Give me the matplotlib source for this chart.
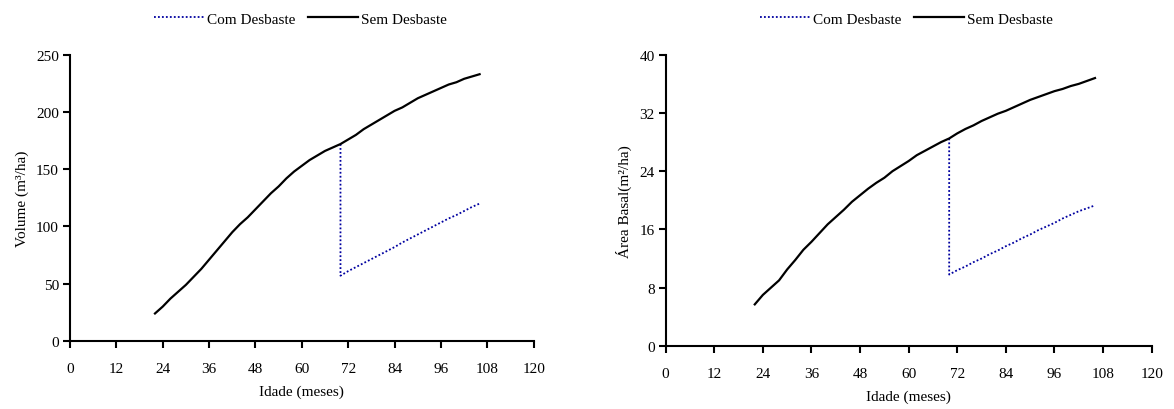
import numpy as np
import matplotlib.pyplot as plt

plt.rcParams['font.family'] = ['Liberation Serif', 'DejaVu Serif']
plt.rcParams['font.size'] = 11

# Idade (meses)
idade = [22, 24, 26, 28, 30, 32, 34, 36, 38, 40, 42, 44, 46, 48, 50, 52, 54, 56, 58,
         60, 62, 64, 66, 68, 70, 72, 74, 76, 78, 80, 82, 84, 86, 88, 90, 92, 94, 96,
         98, 100, 102, 104, 106]

# Volume sem desbaste (m3/ha)
vol_sem = [24, 30, 37, 43, 49, 56, 63, 71, 79, 87, 95, 102, 108, 115, 122, 129, 135,
           142, 148, 153, 158, 162, 166, 169, 172, 176, 180, 185, 189, 193, 197, 201,
           204, 208, 212, 215, 218, 221, 224, 226, 229, 231, 233]

# Area basal sem desbaste (m2/ha)
ab_sem = [5.7, 7.0, 8.0, 9.0, 10.5, 11.8, 13.2, 14.3, 15.5, 16.7, 17.7, 18.7, 19.8,
          20.7, 21.6, 22.4, 23.1, 24.0, 24.7, 25.4, 26.2, 26.8, 27.4, 28.0, 28.5, 29.2,
          29.8, 30.3, 30.9, 31.4, 31.9, 32.3, 32.8, 33.3, 33.8, 34.2, 34.6, 35.0, 35.3,
          35.7, 36.0, 36.4, 36.8]

# Com desbaste aos 70 meses
idade_com = [70, 70, 72, 74, 76, 78, 80, 82, 84, 86, 88, 90, 92, 94, 96, 98, 100, 102,
             104, 106]
vol_com = [172, 57, 61, 64.5, 68, 71.5, 75, 78.5, 82, 86, 89.5, 93, 96.5, 100, 103.5,
           107, 110, 113.5, 117, 120]
ab_com = [28.5, 9.8, 10.4, 10.9, 11.5, 12.0, 12.6, 13.1, 13.7, 14.2, 14.8, 15.3, 15.9,
          16.4, 16.9, 17.5, 18.0, 18.5, 18.9, 19.3]

xticks = np.arange(0, 121, 12)

fig = plt.figure(figsize=(11.74, 4.10), dpi=100)
ax1 = fig.add_axes([0.0596, 0.166, 0.395, 0.698])
ax2 = fig.add_axes([0.567, 0.154, 0.414, 0.710])

paineis = [
    (ax1, vol_com, vol_sem, [0, 250], np.arange(0, 251, 50), 'Volume (m³/ha)', 0.256),
    (ax2, ab_com, ab_sem, [0, 40], np.arange(0, 41, 8), 'Área Basal(m²/ha)', 0.772),
]

for ax, com, sem, ylim, yticks, ylab, leg_x in paineis:
    l1, = ax.plot(idade_com, com, color='#0000a0', linestyle=(0, (1, 1.2)), lw=1.3)
    l2, = ax.plot(idade, sem, color='black', lw=1.6)
    ax.set_xlim(0, 120)
    ax.set_ylim(*ylim)
    ax.set_xticks(xticks)
    ax.set_yticks(yticks)
    for s in ['top', 'right']:
        ax.spines[s].set_visible(False)
    for s in ['left', 'bottom']:
        ax.spines[s].set_linewidth(1.5)
    ax.tick_params(direction='out', length=5, width=1.5, pad=10)
    ax.tick_params(axis='y', pad=3)
    ax.set_xlabel('Idade (meses)', labelpad=7)
    ax.set_ylabel(ylab, labelpad=5)
    fig.legend([l1, l2], ['Com Desbaste', 'Sem Desbaste'], loc='center',
               bbox_to_anchor=(leg_x, 0.952), ncol=2, frameon=False,
               handlelength=3.3, handletextpad=0.2, columnspacing=0.8)

fig.savefig('out.png', dpi=100)
